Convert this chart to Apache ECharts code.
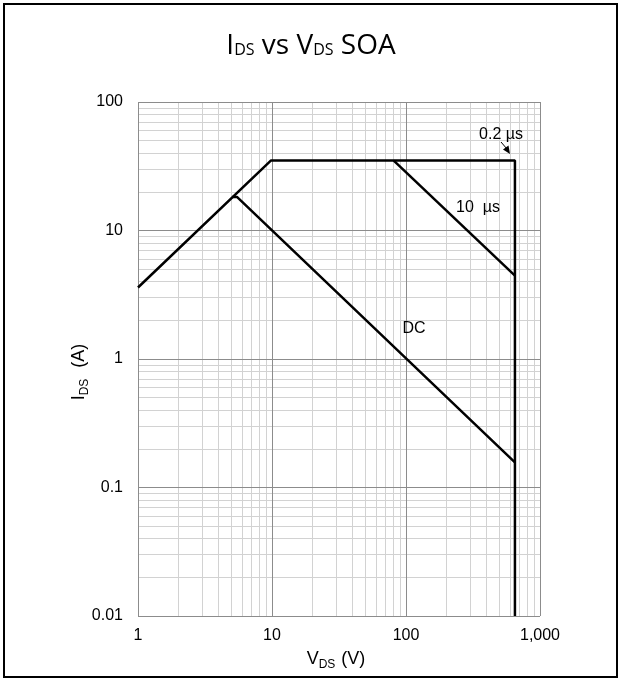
<!DOCTYPE html>
<html>
<head>
<meta charset="utf-8">
<script src="https://cdn.jsdelivr.net/npm/echarts@6/dist/echarts.min.js"></script>
<style>
html,body{margin:0;padding:0;background:#fff;}
#c{width:622px;height:680px;}
</style>
</head>
<body>
<div id="c"></div>
<script>
// Axis ranges / ticks
const xMajor = [1, 10, 100, 1000];
const yMajor = [0.01, 0.1, 1, 10, 100];
const minorMult = [2, 3, 4, 5, 6, 7, 8, 9];

// SOA boundary (RDS(on) limit, current limit, voltage limit)
const limitV = [1, 9.8, 650, 650];
const limitI = [3.6, 35, 35, 0.01];
// 10 us pulse line
const us10V = [81, 650];
const us10I = [35, 4.45];
// DC line
const dcV = [5.05, 5.5, 650];
const dcI = [18.2, 18.2, 0.157];

const pairs = (xs, ys) => xs.map((x, i) => [x, ys[i]]);

const xMinor = [], yMinor = [];
xMajor.slice(0, -1).forEach(d => minorMult.forEach(m => xMinor.push(d * m)));
yMajor.slice(0, -1).forEach(d => minorMult.forEach(m => yMinor.push(+(d * m).toPrecision(6))));

const minorStyle = {color: '#d2d2d2', width: 1, type: 'solid'};
const majorStyle = {color: '#8c8c8c', width: 1, type: 'solid'};

const gridLines = [].concat(
  xMinor.map(v => ({xAxis: v, lineStyle: minorStyle})),
  yMinor.map(v => ({yAxis: v, lineStyle: minorStyle})),
  xMajor.map(v => ({xAxis: v, lineStyle: majorStyle})),
  yMajor.map(v => ({yAxis: v, lineStyle: majorStyle}))
);

const fmt = v => {
  const n = Number(Number(v).toPrecision(6));
  return n >= 1000 ? n.toLocaleString('en-US') : String(n);
};

const nameRich = {
  a: {fontFamily: 'Liberation Sans', fontSize: 18, color: '#000', verticalAlign: 'bottom'},
  s: {fontFamily: 'Liberation Sans', fontSize: 12, color: '#000', verticalAlign: 'bottom', padding: [0, 1, -3, 0]}
};

const lineStyle = {color: '#000', width: 2.5};
const chart = echarts.init(document.getElementById('c'), null, {renderer: 'canvas'});
chart.setOption({
  animation: false,
  backgroundColor: '#fff',
  title: {
    text: 'I{s|DS} vs V{s|DS} SOA',
    left: 'center',
    top: 27,
    textStyle: {
      fontFamily: 'Open Sans', fontSize: 28, fontWeight: 'normal', color: '#000',
      rich: {s: {fontFamily: 'Open Sans', fontSize: 16, color: '#000', verticalAlign: 'bottom', padding: [0,0,2,0]}}
    }
  },
  grid: {left: 138, right: 82, top: 102, bottom: 64},
  xAxis: {
    type: 'log', logBase: 10, min: 1, max: 1000,
    axisLine: {show: false}, axisTick: {show: false},
    splitLine: {show: false},
    axisLabel: {fontFamily: 'Liberation Sans', fontSize: 16, color: '#000', margin: 12, formatter: fmt}
  },
  yAxis: {
    type: 'log', logBase: 10, min: 0.01, max: 100,
    axisLine: {show: false}, axisTick: {show: false},
    splitLine: {show: false},
    axisLabel: {fontFamily: 'Liberation Sans', fontSize: 16, color: '#000', margin: 15, formatter: fmt}
  },
  series: [
    {
      type: 'line', data: [], silent: true,
      markLine: {silent: true, symbol: ['none', 'none'], label: {show: false}, animation: false, data: gridLines}
    },
    {type: 'line', data: pairs(limitV, limitI), symbol: 'none', lineStyle: lineStyle, silent: true, z: 5},
    {type: 'line', data: pairs(us10V, us10I), symbol: 'none', lineStyle: lineStyle, silent: true, z: 5},
    {type: 'line', data: pairs(dcV, dcI), symbol: 'none', lineStyle: lineStyle, silent: true, z: 5}
  ],
  graphic: [
    {type: 'rect', shape: {x: 4, y: 4, width: 613, height: 673}, style: {fill: 'none', stroke: '#000', lineWidth: 2}, z: 100},
    {type: 'text', x: 336, y: 659, style: {text: '{a|V}{s|DS}{a| (V)}', rich: nameRich, align: 'center', verticalAlign: 'middle'}, z: 100},
    {type: 'text', x: 79, y: 372, rotation: Math.PI / 2, style: {text: '{a|I}{s|DS}{a|  (A)}', rich: nameRich, align: 'center', verticalAlign: 'middle'}, z: 100},
    {type: 'text', x: 501, y: 135, style: {text: '0.2 µs', fontFamily: 'Liberation Sans', fontSize: 16, fill: '#000', align: 'center', verticalAlign: 'middle'}, z: 100},
    {type: 'line', shape: {x1: 501, y1: 142, x2: 507, y2: 149}, style: {stroke: '#000', lineWidth: 1}, z: 100},
    {type: 'polygon', shape: {points: [[510, 154], [503, 149.5], [508.5, 145.5]]}, style: {fill: '#000'}, z: 100},
    {type: 'text', x: 478, y: 208, style: {text: '10  µs', fontFamily: 'Liberation Sans', fontSize: 16, fill: '#000', align: 'center', verticalAlign: 'middle'}, z: 100},
    {type: 'text', x: 414, y: 329, style: {text: 'DC', fontFamily: 'Liberation Sans', fontSize: 16, fill: '#000', align: 'center', verticalAlign: 'middle'}, z: 100}
  ]
});
</script>
</body>
</html>
